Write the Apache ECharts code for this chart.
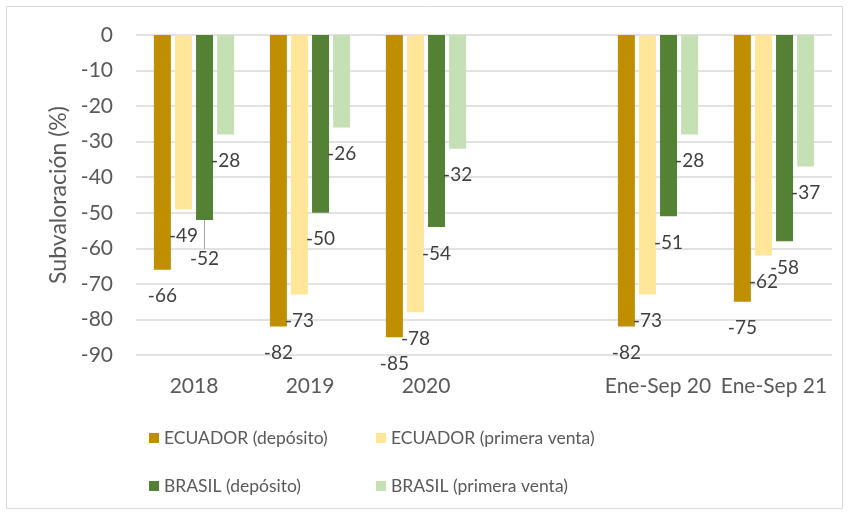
<!DOCTYPE html>
<html>
	<head>
		<meta charset="utf-8" />
		<title>Subvaloración</title>
		<script src="https://cdn.jsdelivr.net/npm/echarts@6/dist/echarts.min.js"></script>
	</head>
	<body style="margin:0;">
		<div id="main" style="width: 849px;height:515px;"></div>
		<script type="text/javascript">
			var categories = ['2018', '2019', '2020', '', 'Ene-Sep 20', 'Ene-Sep 21'];
			var ecuadorDeposito = [-66, -82, -85, null, -82, -75];
			var ecuadorPrimera = [-49, -73, -78, null, -73, -62];
			var brasilDeposito = [-52, -50, -54, null, -51, -58];
			var brasilPrimera = [-28, -26, -32, null, -28, -37];
			var names = ['ECUADOR (depósito)', 'ECUADOR (primera venta)', 'BRASIL (depósito)', 'BRASIL (primera venta)'];
			var colors = ['#bf8f00', '#ffe699', '#548235', '#c5e0b4'];

			var myChart = echarts.init(document.getElementById('main'));
			var font = 'Lato';

			function barSeries(name, data) {
				return {
					name: name,
					type: 'bar',
					data: data,
					barWidth: 17,
					barGap: '24%',
					label: {
						show: true,
						position: 'bottom',
						distance: 17,
						color: '#404040',
						fontFamily: font,
						fontSize: 19
					}
				};
			}

			var series = [
				barSeries(names[0], ecuadorDeposito),
				barSeries(names[1], ecuadorPrimera),
				barSeries(names[2], brasilDeposito),
				barSeries(names[3], brasilPrimera)
			];
			// la etiqueta -52 de 2018 está desplazada hacia abajo, con línea guía
			series[2].data = brasilDeposito.map(function (v, i) {
				if (i === 0) {
					return {
						value: v,
						labelLine: { show: true, lineStyle: { color: '#a6a6a6', width: 1 } }
					};
				}
				return v;
			});
			series[2].labelLayout = function (params) {
				if (params.dataIndex === 0) {
					return { dy: 12 };
				}
			};

			function legendAt(name, left, top) {
				return {
					data: [name],
					left: left,
					top: top,
					padding: 0,
					itemWidth: 10,
					itemHeight: 10,
					icon: 'rect',
					textStyle: { color: '#595959', fontFamily: font, fontSize: 17.5 }
				};
			}

			var option = {
				color: colors,
				textStyle: { fontFamily: font },
				grid: { left: 136, right: 17, top: 35, bottom: 160 },
				legend: [
					legendAt(names[0], 149, 429),
					legendAt(names[1], 376, 429),
					legendAt(names[2], 149, 477),
					legendAt(names[3], 376, 477)
				],
				xAxis: {
					type: 'category',
					data: categories,
					axisLine: { show: false },
					axisTick: { show: false },
					axisLabel: { color: '#595959', fontSize: 21, margin: 21, interval: 0 }
				},
				yAxis: {
					type: 'value',
					min: -90,
					max: 0,
					interval: 10,
					name: 'Subvaloración (%)',
					nameLocation: 'middle',
					nameGap: 64,
					nameTextStyle: { color: '#595959', fontSize: 23 },
					axisLabel: { color: '#595959', fontSize: 21, margin: 23 },
					splitLine: { lineStyle: { color: '#d9d9d9', width: 1.7 } }
				},
				graphic: [{
					type: 'rect',
					shape: { x: 6.5, y: 6.5, width: 836, height: 502 },
					style: { fill: null, stroke: '#d9d9d9', lineWidth: 1 },
					silent: true
				}],
				series: series
			};
			myChart.setOption(option);
		</script>
	</body>
</html>
